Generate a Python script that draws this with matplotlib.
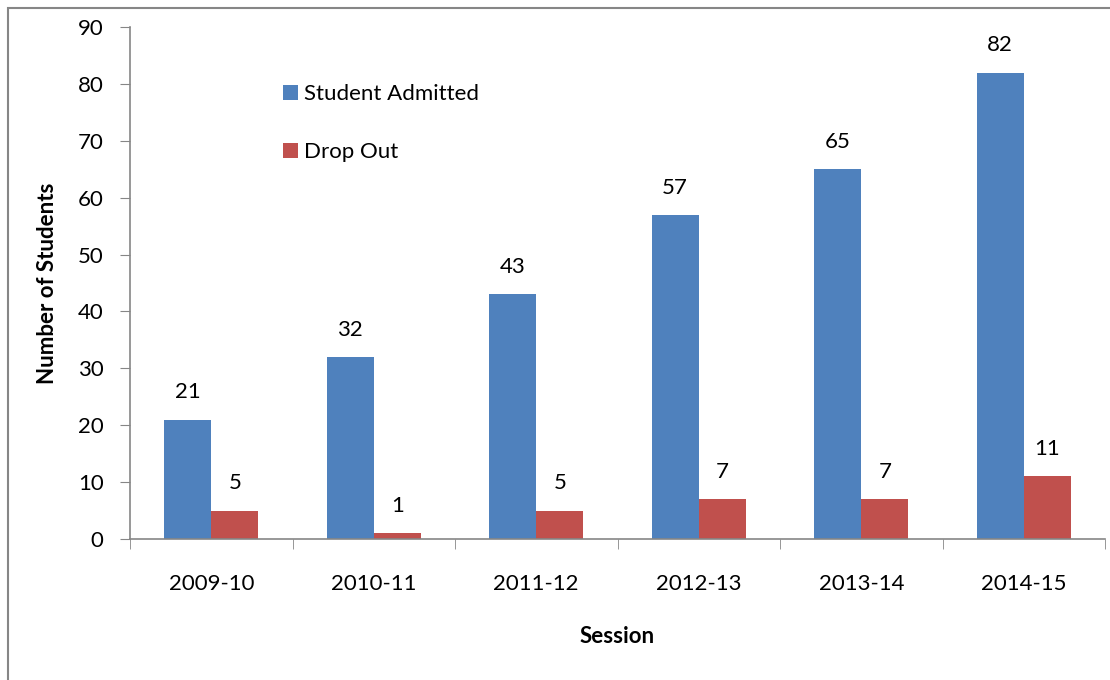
import matplotlib.pyplot as plt
import matplotlib.patches as mpatches
import numpy as np

plt.rcParams['font.family'] = ['Lato', 'DejaVu Sans']

sessions = ['2009-10', '2010-11', '2011-12', '2012-13', '2013-14', '2014-15']
admitted = [21, 32, 43, 57, 65, 82]
dropout = [5, 1, 5, 7, 7, 11]

blue = '#4F81BD'
red = '#C0504D'
grey = '#868686'
fs = 16

fig = plt.figure(figsize=(11.1, 6.8), dpi=100)
ax = fig.add_axes([130/1110, 1-539/680, 975/1110, 512/680])

x = np.arange(len(sessions))
w = 0.29
b1 = ax.bar(x - w/2, admitted, w, color=blue, label='Student Admitted')
b2 = ax.bar(x + w/2, dropout, w, color=red, label='Drop Out')

for rect, v in zip(b1, admitted):
    ax.text(rect.get_x() + rect.get_width()/2, v + 3, str(v), ha='center', va='bottom', fontsize=fs)
for rect, v in zip(b2, dropout):
    ax.text(rect.get_x() + rect.get_width()/2, v + 3, str(v), ha='center', va='bottom', fontsize=fs)

ax.set_xlim(-0.5, len(sessions) - 0.5)
ax.set_ylim(0, 90)
ax.set_yticks(range(0, 91, 10))
ax.set_xticks(x)
ax.set_xticklabels(sessions)
ax.set_xticks(np.arange(-0.5, len(sessions)), minor=True)
ax.tick_params(axis='x', which='major', length=0, pad=25, labelsize=fs)
ax.tick_params(axis='x', which='minor', length=7, direction='out', color=grey)
ax.tick_params(axis='y', length=7, direction='out', color=grey, pad=12, labelsize=fs)

for s in ['top', 'right']:
    ax.spines[s].set_visible(False)
for s in ['left', 'bottom']:
    ax.spines[s].set_color(grey)
    ax.spines[s].set_linewidth(1.2)

ax.set_ylabel('Number of Students', fontsize=fs, fontweight='bold', labelpad=14)
ax.set_xlabel('Session', fontsize=fs, fontweight='bold', labelpad=23)

ax.legend(loc='upper left', bbox_to_anchor=(0.157, 0.888), frameon=False, fontsize=fs,
          borderaxespad=0, borderpad=0,
          handlelength=0.65, handleheight=0.65, handletextpad=0.3, labelspacing=1.7)

border = mpatches.Rectangle((8/1110, -0.1), 1.2, 1 - 8/680 + 0.1, transform=fig.transFigure,
                            fill=False, edgecolor=grey, linewidth=1.5, clip_on=False)
fig.patches.append(border)

fig.savefig('out.png', dpi=100)
